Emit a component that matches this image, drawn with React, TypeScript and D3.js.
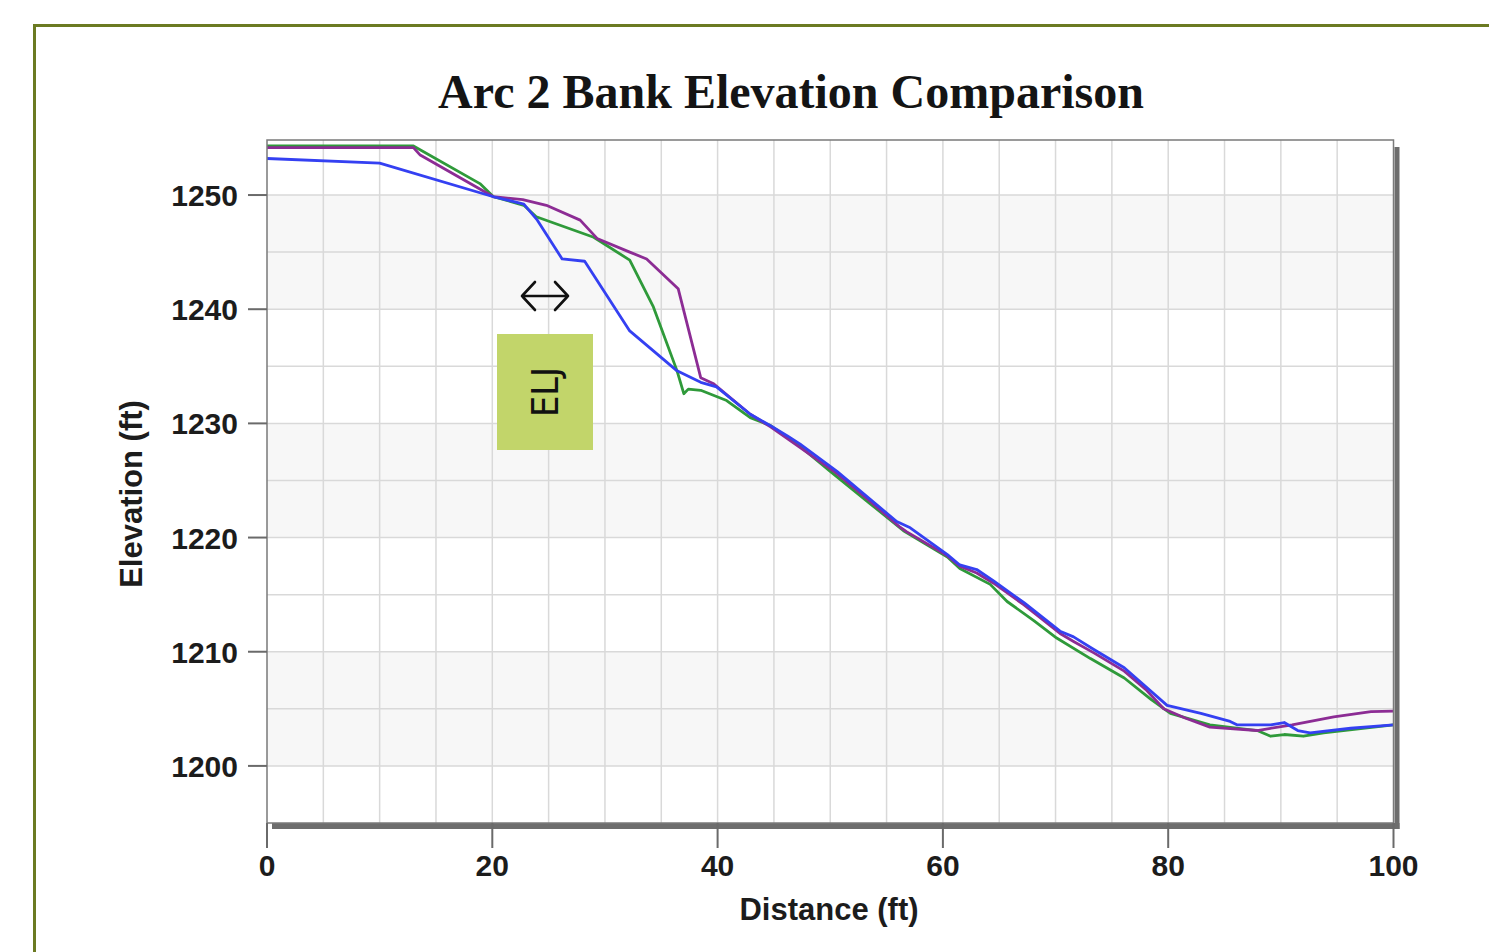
import React, { useEffect, useRef } from 'react';
import * as d3 from 'd3';

// [distance ft, elevation ft]
const greenProfile: [number, number][] = [
  [0, 1254.3], [13.0, 1254.3], [18.9, 1251.0], [20.1, 1249.85], [22.8, 1249.1], [23.9, 1248.1],
  [29.0, 1246.3], [32.2, 1244.3], [34.3, 1240.2], [36.4, 1234.6], [37.0, 1232.6], [37.4, 1233.0],
  [38.5, 1232.9], [40.8, 1232.0], [42.9, 1230.5], [44.7, 1229.8], [47.3, 1228.0], [50.0, 1225.8],
  [53.5, 1223.0], [56.5, 1220.6], [60.4, 1218.3], [61.5, 1217.3], [64.2, 1215.9], [65.7, 1214.4],
  [68.1, 1212.7], [70.1, 1211.2], [73.1, 1209.4], [76.1, 1207.7], [78.5, 1205.8], [80.2, 1204.6],
  [83.7, 1203.6], [87.9, 1203.1], [89.1, 1202.6], [90.3, 1202.75], [92.0, 1202.6], [93.8, 1202.9],
  [100, 1203.6],
];

const purpleProfile: [number, number][] = [
  [0, 1254.15], [13.0, 1254.15], [13.6, 1253.5], [20.1, 1249.85], [22.7, 1249.6], [24.8, 1249.1],
  [27.8, 1247.8], [29.3, 1246.2], [32.2, 1245.0], [33.7, 1244.4], [36.5, 1241.8], [38.5, 1234.0],
  [39.6, 1233.5], [42.9, 1230.8], [44.7, 1229.7], [47.3, 1227.9], [50.6, 1225.6], [53.5, 1223.2],
  [56.2, 1220.9], [56.8, 1220.5], [60.4, 1218.4], [61.5, 1217.5], [63.0, 1216.9], [64.5, 1216.0],
  [67.2, 1214.1], [70.4, 1211.6], [71.6, 1210.9], [73.4, 1209.9], [76.1, 1208.3], [78.0, 1206.7],
  [79.6, 1205.0], [81.5, 1204.2], [83.7, 1203.4], [87.9, 1203.1], [91.0, 1203.6], [94.7, 1204.3],
  [98.0, 1204.75], [100, 1204.8],
];

const blueProfile: [number, number][] = [
  [0, 1253.2], [10.0, 1252.8], [20.1, 1249.85], [22.8, 1249.2], [24.0, 1247.8], [26.2, 1244.4],
  [28.2, 1244.2], [32.2, 1238.1], [36.4, 1234.6], [38.5, 1233.6], [39.9, 1233.2], [42.9, 1230.8],
  [44.7, 1229.8], [46.2, 1228.9], [47.3, 1228.2], [50.6, 1225.8], [55.9, 1221.4], [57.1, 1220.85],
  [60.4, 1218.5], [61.5, 1217.6], [63.0, 1217.2], [64.5, 1216.2], [67.2, 1214.3], [70.4, 1211.8],
  [71.6, 1211.3], [73.4, 1210.2], [76.1, 1208.6], [79.9, 1205.3], [82.9, 1204.6], [85.5, 1203.9],
  [86.1, 1203.6], [89.1, 1203.6], [90.3, 1203.8], [91.5, 1203.1], [92.6, 1202.9], [96.2, 1203.3],
  [100, 1203.6],
];

const xTicks = [0, 20, 40, 60, 80, 100];
const yTicks = [1200, 1210, 1220, 1230, 1240, 1250];
// shaded horizontal bands [low, high]
const bands: [number, number][] = [[1200, 1210], [1220, 1230], [1240, 1250]];

const W = 1489;
const H = 952;

const App = () => {
  const svgRef = useRef<SVGSVGElement | null>(null);

  useEffect(() => {
    if (!svgRef.current) return;
    const svg = d3.select(svgRef.current);
    svg.selectAll('*').remove();

    const left = 267, right = 1393.5, top = 140, bottom = 823;
    const x = d3.scaleLinear().domain([0, 100]).range([left, right]);
    const y = d3.scaleLinear().domain([1195.0, 1254.82]).range([bottom, top]);

    // olive page frame
    svg.append('rect')
      .attr('x', 34.5).attr('y', 25.5)
      .attr('width', 1600).attr('height', 1200)
      .attr('fill', 'none')
      .attr('stroke', '#6b7a22')
      .attr('stroke-width', 3);

    // title
    svg.append('text')
      .attr('x', 791).attr('y', 108)
      .attr('text-anchor', 'middle')
      .attr('font-family', '"Liberation Serif", "Times New Roman", serif')
      .attr('font-weight', 'bold')
      .attr('font-size', 48)
      .attr('fill', '#141414')
      .text('Arc 2 Bank Elevation Comparison');

    // plot background + bands
    svg.append('rect')
      .attr('x', left).attr('y', top)
      .attr('width', right - left).attr('height', bottom - top)
      .attr('fill', '#fff');

    svg.append('g').selectAll('rect')
      .data(bands)
      .join('rect')
      .attr('x', left)
      .attr('y', d => y(d[1]))
      .attr('width', right - left)
      .attr('height', d => y(d[0]) - y(d[1]))
      .attr('fill', '#f7f7f7');

    // grid every 5 ft
    const grid = svg.append('g').attr('stroke', '#d9d9d9').attr('stroke-width', 1.5);
    grid.selectAll('line.gx')
      .data(d3.range(5, 100, 5))
      .join('line')
      .attr('class', 'gx')
      .attr('x1', d => x(d)).attr('x2', d => x(d))
      .attr('y1', top).attr('y2', bottom);
    grid.selectAll('line.gy')
      .data(d3.range(1200, 1255, 5))
      .join('line')
      .attr('class', 'gy')
      .attr('x1', left).attr('x2', right)
      .attr('y1', d => y(d)).attr('y2', d => y(d));

    // profiles
    const line = d3.line<[number, number]>()
      .x(d => x(d[0]))
      .y(d => y(d[1]));

    const series: { data: [number, number][]; color: string }[] = [
      { data: greenProfile, color: '#2f9a3a' },
      { data: purpleProfile, color: '#8c2c94' },
      { data: blueProfile, color: '#3440f2' },
    ];
    series.forEach(s => {
      svg.append('path')
        .datum(s.data)
        .attr('d', line)
        .attr('fill', 'none')
        .attr('stroke', s.color)
        .attr('stroke-width', 2.8)
        .attr('stroke-linejoin', 'round');
    });

    // frame: thin top/left/right/bottom + drop shadow on bottom/right
    svg.append('rect')
      .attr('x', right + 1).attr('y', top + 7)
      .attr('width', 5).attr('height', bottom - top - 1)
      .attr('fill', '#6d6d6d');
    svg.append('rect')
      .attr('x', left + 5).attr('y', bottom)
      .attr('width', right - left + 1).attr('height', 6)
      .attr('fill', '#6d6d6d');
    svg.append('rect')
      .attr('x', left).attr('y', top)
      .attr('width', right - left).attr('height', bottom - top)
      .attr('fill', 'none')
      .attr('stroke', '#7a7a7a')
      .attr('stroke-width', 1.5);

    const labelFont = '"Liberation Sans", Arial, Helvetica, sans-serif';

    // y axis ticks
    const yAxis = svg.append('g');
    yAxis.selectAll('line')
      .data(yTicks)
      .join('line')
      .attr('x1', 248).attr('x2', left)
      .attr('y1', d => y(d)).attr('y2', d => y(d))
      .attr('stroke', '#6a6a6a').attr('stroke-width', 2);
    yAxis.selectAll('text')
      .data(yTicks)
      .join('text')
      .attr('x', 238)
      .attr('y', d => y(d) + 11)
      .attr('text-anchor', 'end')
      .attr('font-family', labelFont)
      .attr('font-weight', 'bold')
      .attr('font-size', 30)
      .attr('fill', '#1c1c1c')
      .text(d => d);

    // x axis ticks
    const xAxis = svg.append('g');
    xAxis.selectAll('line')
      .data(xTicks)
      .join('line')
      .attr('x1', d => x(d)).attr('x2', d => x(d))
      .attr('y1', bottom).attr('y2', 848)
      .attr('stroke', '#6a6a6a').attr('stroke-width', 2);
    xAxis.selectAll('text')
      .data(xTicks)
      .join('text')
      .attr('x', d => x(d))
      .attr('y', 876)
      .attr('text-anchor', 'middle')
      .attr('font-family', labelFont)
      .attr('font-weight', 'bold')
      .attr('font-size', 30)
      .attr('fill', '#1c1c1c')
      .text(d => d);

    // axis titles
    svg.append('text')
      .attr('x', 829).attr('y', 920)
      .attr('text-anchor', 'middle')
      .attr('font-family', labelFont)
      .attr('font-weight', 'bold')
      .attr('font-size', 31)
      .attr('fill', '#1c1c1c')
      .text('Distance (ft)');
    svg.append('text')
      .attr('transform', 'translate(142,494) rotate(-90)')
      .attr('text-anchor', 'middle')
      .attr('font-family', labelFont)
      .attr('font-weight', 'bold')
      .attr('font-size', 31)
      .attr('fill', '#1c1c1c')
      .text('Elevation (ft)');

    // ELJ annotation box + double arrow
    svg.append('rect')
      .attr('x', 497).attr('y', 334)
      .attr('width', 96).attr('height', 116)
      .attr('fill', '#c2d56a');
    svg.append('text')
      .attr('transform', 'translate(545,392) rotate(-90)')
      .attr('text-anchor', 'middle')
      .attr('dominant-baseline', 'central')
      .attr('font-family', '"DejaVu Sans", sans-serif')
      .attr('font-size', 38)
      .attr('textLength', 50)
      .attr('lengthAdjust', 'spacingAndGlyphs')
      .attr('fill', '#111')
      .text('ELJ');
    svg.append('path')
      .attr('d', 'M522,296 H568 M535,282 L522,296 L535,310 M555,282 L568,296 L555,310')
      .attr('fill', 'none')
      .attr('stroke', '#111')
      .attr('stroke-width', 2.6)
      .attr('stroke-linecap', 'round')
      .attr('stroke-linejoin', 'round');
  }, []);

  return (
    <svg
      ref={svgRef}
      width={W}
      height={H}
      style={{ position: 'absolute', left: 0, top: 0, background: '#fff' }}
    />
  );
};

export default App;
